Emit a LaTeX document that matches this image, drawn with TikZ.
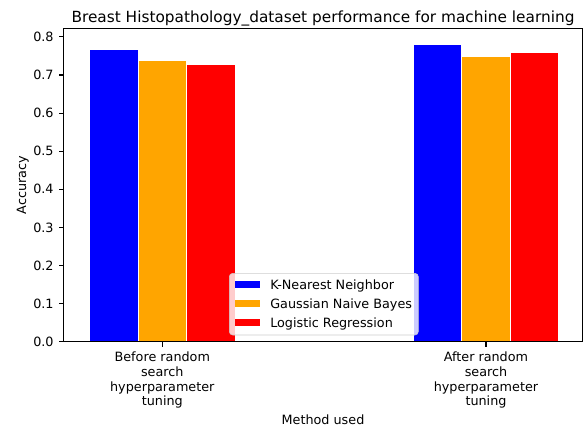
\documentclass[tikz,border=0pt]{standalone}
\usepackage{fontspec}
\setmainfont{DejaVu Sans}
\definecolor{mplorange}{RGB}{255,165,0}
\begin{document}
\begin{tikzpicture}[x=233.06pt, y=274.32pt, font=\fontsize{9.2}{10.6}\selectfont,
        barbox/.style={draw=white, line width=0.5pt},
        axline/.style={line width=0.8pt, black},
        ticklab/.style={inner sep=0pt, text=black},
        legpatch/.style={inner sep=0pt, minimum width=17.5pt, minimum height=5.4pt}]
        \useasboundingbox (-0.5014,-0.2318) rectangle (1.3028,0.8969);
        % ---- bars (KNN / GNB / LR) ----
        \foreach \g/\kn/\gn/\lr in {0/0.7675/0.7386/0.7289, 1/0.7806/0.7480/0.7585} {
          \fill[blue, barbox] (\g-0.225,0) rectangle (\g-0.075,\kn);
          \fill[mplorange, barbox] (\g-0.075,0) rectangle (\g+0.075,\gn);
          \fill[red, barbox] (\g+0.075,0) rectangle (\g+0.225,\lr);
        }
        % ---- axes frame ----
        \draw[axline] (-0.304,0) rectangle (1.297,0.821);
        % ---- y ticks ----
        \foreach \v in {0,...,8}
          \draw[axline] (-0.304,\v/10) -- ++(-3.5pt,0)
            node[ticklab, left=3.5pt] (yt\v) {0.\v};
        % ---- x ticks ----
        \draw[axline] (0,0) -- ++(0,-3.5pt)
          node[ticklab, below=3.5pt, align=center] (xt0) {Before random\\search\\hyperparameter\\tuning};
        \draw[axline] (1,0) -- ++(0,-3.5pt)
          node[ticklab, below=3.5pt, align=center] (xt1) {After random\\search\\hyperparameter\\tuning};
        % ---- labels ----
        \node[ticklab, anchor=base, font=\fontsize{11.04}{13}\selectfont] (title) at (0.4965,0.839)
          {Breast Histopathology\_dataset performance for machine learning};
        \node[ticklab, anchor=base] (xlab) at (0.4965,-0.2173) {Method used};
        \node[ticklab, rotate=90] (ylab) at (-0.4313,0.4105) {Accuracy};
        % ---- legend ----
        \draw[draw=black!20, fill=white, fill opacity=0.8, rounded corners=2.5pt]
          (0.207,0.0176) rectangle (0.791,0.1795);
        \node[legpatch, fill=blue] (lp1) at (0.263,0.1507) {};
        \node[legpatch, fill=mplorange] (lp2) at (0.263,0.0997) {};
        \node[legpatch, fill=red] (lp3) at (0.263,0.0499) {};
        \node[ticklab, anchor=base west] (lt1) at (0.3327,0.1375) {K-Nearest Neighbor};
        \node[ticklab, anchor=base west] (lt2) at (0.3327,0.0866) {Gaussian Naive Bayes};
        \node[ticklab, anchor=base west] (lt3) at (0.3327,0.0367) {Logistic Regression};
\end{tikzpicture}
\end{document}
